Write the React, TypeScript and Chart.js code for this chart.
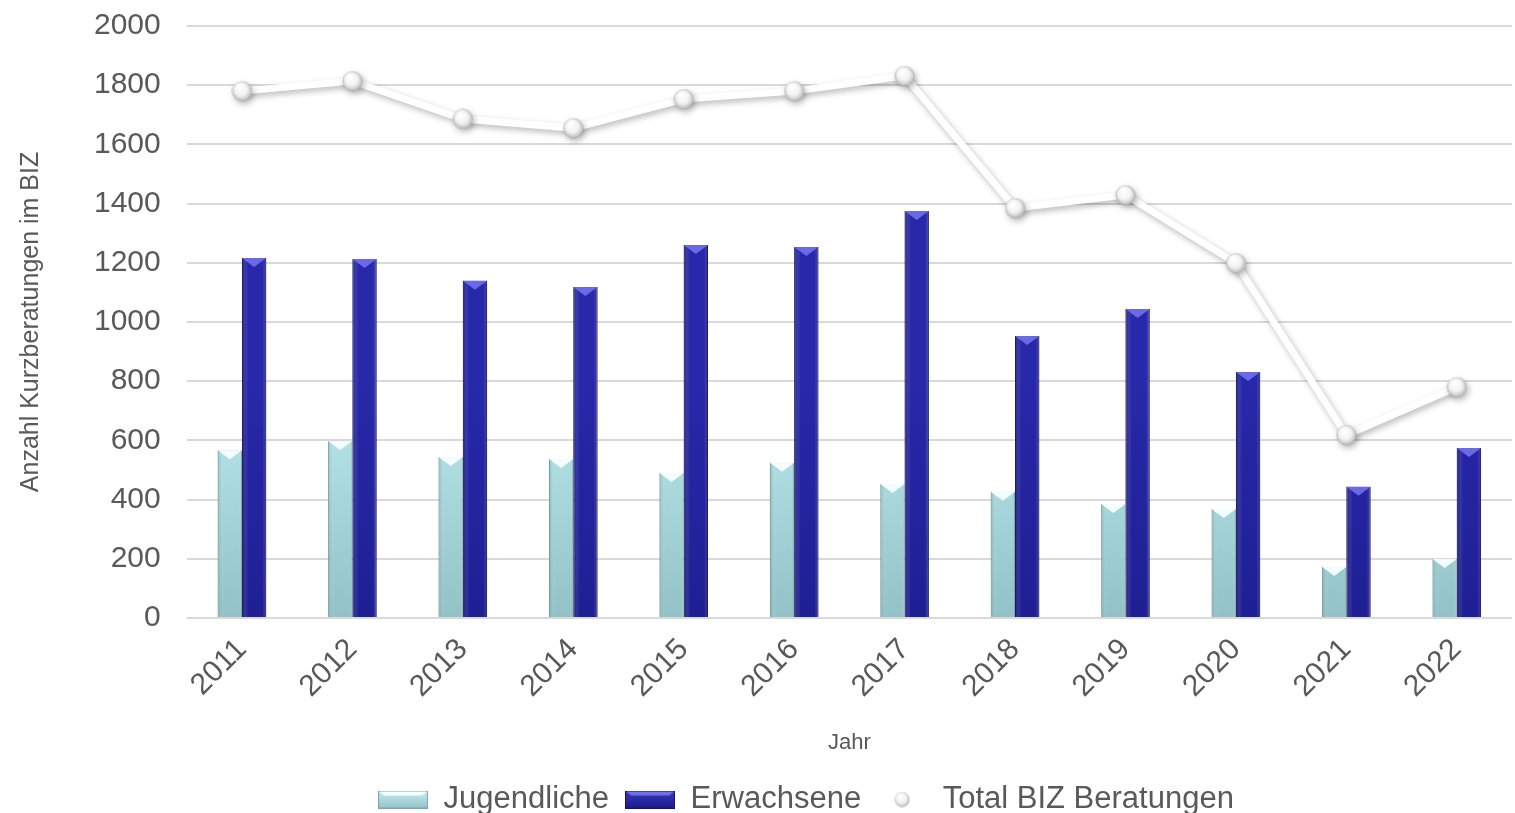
import React, { useEffect, useRef } from "react";
import { Chart, registerables } from "chart.js";

Chart.register(...registerables);

const years = ["2011", "2012", "2013", "2014", "2015", "2016", "2017", "2018", "2019", "2020", "2021", "2022"];
const jugendliche = [567, 598, 544, 537, 490, 524, 453, 426, 385, 368, 172, 199];
const erwachsene = [1216, 1213, 1139, 1118, 1260, 1253, 1375, 953, 1044, 831, 443, 574];
const totalBiz = [1780, 1814, 1686, 1655, 1753, 1780, 1831, 1385, 1429, 1199, 618, 780];
const seriesNames = ["Jugendliche", "Erwachsene", "Total BIZ Beratungen"];
const yTitle = "Anzahl Kurzberatungen im BIZ";
const xTitle = "Jahr";

const FONT = "'Liberation Sans', Arial, sans-serif";
const TEXT = "#595959";

function makeSphere(size: number): HTMLCanvasElement {
  const c = document.createElement("canvas");
  c.width = size;
  c.height = size;
  const g = c.getContext("2d")!;
  const r = size / 2;
  const grad = g.createRadialGradient(r * 0.75, r * 0.6, 1, r, r, r);
  grad.addColorStop(0, "#ffffff");
  grad.addColorStop(0.55, "#f3f3f3");
  grad.addColorStop(0.85, "#cacaca");
  grad.addColorStop(1, "#9c9c9c");
  g.fillStyle = grad;
  g.beginPath();
  g.arc(r, r, r - 0.5, 0, Math.PI * 2);
  g.fill();
  return c;
}

function makeBox(w: number, h: number, top: string, bottom: string, bevel: string, edge: string): HTMLCanvasElement {
  const c = document.createElement("canvas");
  c.width = w;
  c.height = h;
  const g = c.getContext("2d")!;
  const grad = g.createLinearGradient(0, 0, 0, h);
  grad.addColorStop(0, top);
  grad.addColorStop(1, bottom);
  g.fillStyle = grad;
  g.fillRect(0, 0, w, h);
  g.fillStyle = bevel;
  g.beginPath();
  g.moveTo(0, 0);
  g.lineTo(w, 0);
  g.lineTo(w - 6, 5);
  g.lineTo(6, 5);
  g.closePath();
  g.fill();
  g.strokeStyle = edge;
  g.lineWidth = 1;
  g.strokeRect(0.5, 0.5, w - 1, h - 1);
  return c;
}

export default function App() {
  const ref = useRef<HTMLCanvasElement | null>(null);

  useEffect(() => {
    document.body.style.margin = "0";
    const canvas = ref.current!;
    const sphere = makeSphere(21);
    const legendSphere = makeSphere(16);
    const boxJ = makeBox(50, 18, "#c8f0f4", "#93c3c7", "#f6ffff", "#7aa6aa");
    const boxE = makeBox(50, 18, "#3a3abe", "#1c1c8c", "#7070ec", "#141470");

    const bevelPlugin = {
      id: "bevel",
      afterDatasetDraw(chart: any, args: any) {
        if (args.index > 1) return;
        const c = chart.ctx;
        const meta = args.meta;
        c.save();
        meta.data.forEach((el: any) => {
          const w = el.width;
          const x0 = el.x - w / 2;
          const y0 = el.y;
          const sg = c.createLinearGradient(x0, 0, x0 + w, 0);
          if (args.index === 0) {
            sg.addColorStop(0, "rgba(60,110,115,0.30)");
            sg.addColorStop(0.25, "rgba(255,255,255,0)");
            sg.addColorStop(0.85, "rgba(255,255,255,0)");
            sg.addColorStop(1, "rgba(60,110,115,0.20)");
          } else {
            sg.addColorStop(0, "rgba(10,10,60,0.35)");
            sg.addColorStop(0.25, "rgba(255,255,255,0)");
            sg.addColorStop(0.85, "rgba(255,255,255,0)");
            sg.addColorStop(1, "rgba(10,10,60,0.35)");
          }
          c.fillStyle = sg;
          c.fillRect(x0, y0, w, el.base - y0);
          c.fillStyle = args.index === 0 ? "rgba(248,255,255,0.95)" : "rgba(110,110,235,0.95)";
          c.beginPath();
          c.moveTo(x0, y0);
          c.lineTo(x0 + w, y0);
          c.lineTo(el.x, y0 + 9);
          c.closePath();
          c.fill();
        });
        c.restore();
      },
    };

    const shadowPlugin = {
      id: "lineShadow",
      beforeDatasetDraw(chart: any, args: any) {
        if (args.index !== 2) return;
        const c = chart.ctx;
        c.save();
        c.shadowColor = "rgba(0,0,0,0.28)";
        c.shadowBlur = 6;
        c.shadowOffsetX = 2;
        c.shadowOffsetY = 3;
      },
      afterDatasetDraw(chart: any, args: any) {
        if (args.index !== 2) return;
        chart.ctx.restore();
      },
    };

    const legendShift = {
      id: "legendShift",
      afterLayout(chart: any) {
        const l = chart.legend;
        if (!l) return;
        l.left += 45;
        l.right += 45;
      },
    };

    const vGrad = (top: string, bottom: string) => (ctx: any) => {
      const chart = ctx.chart;
      const area = chart.chartArea;
      if (!area) return bottom;
      const g = chart.ctx.createLinearGradient(0, area.top + area.height * 0.6, 0, area.bottom);
      g.addColorStop(0, top);
      g.addColorStop(1, bottom);
      return g;
    };

    const chart = new Chart(canvas, {
      type: "bar",
      data: {
        labels: years,
        datasets: [
          {
            type: "bar",
            label: seriesNames[0],
            data: jugendliche,
            backgroundColor: vGrad("#bcebef", "#93c2c6"),
            borderColor: "#80acb0",
            borderWidth: 1,
            order: 1,
            categoryPercentage: 0.44,
            barPercentage: 1,
          },
          {
            type: "bar",
            label: seriesNames[1],
            data: erwachsene,
            backgroundColor: vGrad("#2828aa", "#1f1f94"),
            borderColor: "#151572",
            borderWidth: 1,
            order: 1,
            categoryPercentage: 0.44,
            barPercentage: 1,
          },
          {
            type: "line",
            label: seriesNames[2],
            data: totalBiz,
            borderColor: "#ffffff",
            borderWidth: 7,
            pointStyle: sphere as any,
            pointRadius: 10,
            tension: 0,
            order: 0,
          },
        ],
      } as any,
      options: {
        animation: false,
        responsive: false,
        devicePixelRatio: 1,
        layout: { autoPadding: false, padding: { top: 26, right: 3, left: 10, bottom: -12 } },
        plugins: {
          tooltip: { enabled: false },
          legend: {
            position: "bottom",
            labels: {
              usePointStyle: true,
              pointStyleWidth: 50,
              padding: 16,
              color: TEXT,
              font: { family: FONT, size: 31 },
              generateLabels: () => [
                { text: seriesNames[0], pointStyle: boxJ, fillStyle: "#aadadd", strokeStyle: "#7aa6aa", lineWidth: 0, hidden: false, datasetIndex: 0, fontColor: TEXT },
                { text: seriesNames[1], pointStyle: boxE, fillStyle: "#2222a0", strokeStyle: "#151572", lineWidth: 0, hidden: false, datasetIndex: 1, fontColor: TEXT },
                { text: seriesNames[2], pointStyle: legendSphere, fillStyle: "#eeeeee", strokeStyle: "#aaaaaa", lineWidth: 0, hidden: false, datasetIndex: 2, fontColor: TEXT },
              ] as any,
            },
          },
        },
        scales: {
          x: {
            grid: { display: false },
            border: { display: false },
            afterFit: (s: any) => {
              s.paddingLeft = 0;
              s.paddingRight = 0;
            },
            ticks: {
              color: TEXT,
              font: { family: FONT, size: 30 },
              maxRotation: 45,
              minRotation: 45,
              padding: 6,
            },
            title: {
              display: true,
              text: xTitle,
              color: TEXT,
              font: { family: FONT, size: 22 },
              padding: { top: 19, bottom: 12 },
            },
          },
          y: {
            min: 0,
            max: 2000,
            afterFit: (s: any) => {
              s.paddingTop = 0;
              s.paddingBottom = 0;
            },
            ticks: {
              stepSize: 200,
              color: TEXT,
              font: { family: FONT, size: 30 },
              padding: 26,
              callback: (v: any) => String(v),
            },
            grid: { color: "#d9d9d9", lineWidth: 2, drawTicks: false },
            border: { display: false },
            title: {
              display: true,
              text: yTitle,
              color: TEXT,
              font: { family: FONT, size: 25 },
              padding: { top: 6, bottom: 22 },
            },
          },
        },
      },
      plugins: [bevelPlugin, shadowPlugin, legendShift],
    } as any);

    return () => chart.destroy();
  }, []);

  return (
    <div style={{ width: 1515, height: 813, background: "#ffffff" }}>
      <canvas ref={ref} width={1515} height={813} style={{ display: "block" }} />
    </div>
  );
}
